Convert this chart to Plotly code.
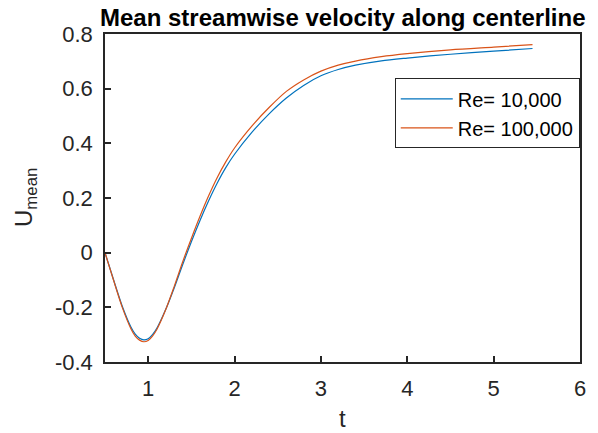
import plotly.graph_objects as go

t = [0.5, 0.6, 0.7, 0.8, 0.85, 0.9, 0.95, 1.0, 1.05, 1.1, 1.2, 1.3, 1.4, 1.5, 1.6, 1.7,
     1.8, 1.9, 2.0, 2.2, 2.4, 2.6, 2.8, 3.0, 3.2, 3.4, 3.7, 4.0, 4.5, 5.0, 5.45]
u_re1e4 = [0.0, -0.100, -0.196, -0.272, -0.298, -0.313, -0.319, -0.315, -0.300,
           -0.277, -0.210, -0.130, -0.043, 0.040, 0.118, 0.190, 0.255, 0.312,
           0.360, 0.440, 0.508, 0.566, 0.612, 0.647, 0.670, 0.686, 0.702, 0.712,
           0.726, 0.737, 0.747]
u_re1e5 = [0.0, -0.102, -0.200, -0.278, -0.305, -0.320, -0.326, -0.321, -0.305,
           -0.281, -0.211, -0.125, -0.033, 0.052, 0.133, 0.208, 0.275, 0.333,
           0.383, 0.463, 0.531, 0.590, 0.632, 0.664, 0.686, 0.701, 0.717, 0.728,
           0.742, 0.752, 0.761]
series_names = ["Re= 10,000", "Re= 100,000"]
colors = ["#0072BD", "#D95319"]
x_ticks = [1, 2, 3, 4, 5, 6]
y_ticks = [-0.4, -0.2, 0, 0.2, 0.4, 0.6, 0.8]
y_tick_text = ["-0.4", "-0.2", "0", "0.2", "0.4", "0.6", "0.8"]

AX = "#262626"
FONT = "Liberation Sans, Arial, Helvetica, sans-serif"

fig = go.Figure()
for name, ys, c in zip(series_names, [u_re1e4, u_re1e5], colors):
    fig.add_trace(go.Scatter(x=t, y=ys, mode="lines", name=name,
                             line=dict(color=c, width=1.2, shape="spline", smoothing=0.8)))

axis_common = dict(showline=True, linecolor=AX, linewidth=1.5, mirror=True,
                   ticks="inside", ticklen=6, tickwidth=1.5, tickcolor=AX,
                   showgrid=False, zeroline=False,
                   tickfont=dict(family=FONT, size=22, color=AX))

fig.update_layout(
    width=598, height=433,
    margin=dict(l=105, r=13, t=34, b=71),
    paper_bgcolor="white", plot_bgcolor="white",
    showlegend=True,
    legend=dict(x=0.61, y=0.865, xanchor="left", yanchor="top",
                bgcolor="white", bordercolor=AX, borderwidth=1,
                font=dict(family=FONT, size=20, color="black"),
                itemwidth=52, tracegroupgap=0),
    xaxis=dict(range=[0.5, 6], tickvals=x_ticks, ticklabelstandoff=6, **axis_common),
    yaxis=dict(range=[-0.4, 0.8], tickvals=y_ticks, ticktext=y_tick_text,
               ticklabelstandoff=6, **axis_common),
    annotations=[
        dict(text="<b>Mean streamwise velocity along centerline</b>", xref="paper", yref="paper",
             x=0.5, y=1, xanchor="center", yanchor="middle", yshift=17, showarrow=False,
             font=dict(family=FONT, size=24, color="black")),
        dict(text="t", xref="paper", yref="paper", x=0.5, y=0, xanchor="center",
             yanchor="middle", yshift=-56, showarrow=False,
             font=dict(family=FONT, size=24, color=AX)),
        dict(text="U<sub>mean</sub>", xref="paper", yref="paper", x=0, y=0.5,
             xanchor="center", yanchor="middle", xshift=-80, textangle=-90, showarrow=False,
             font=dict(family=FONT, size=24, color=AX)),
    ],
)

fig.write_html("out.html")
